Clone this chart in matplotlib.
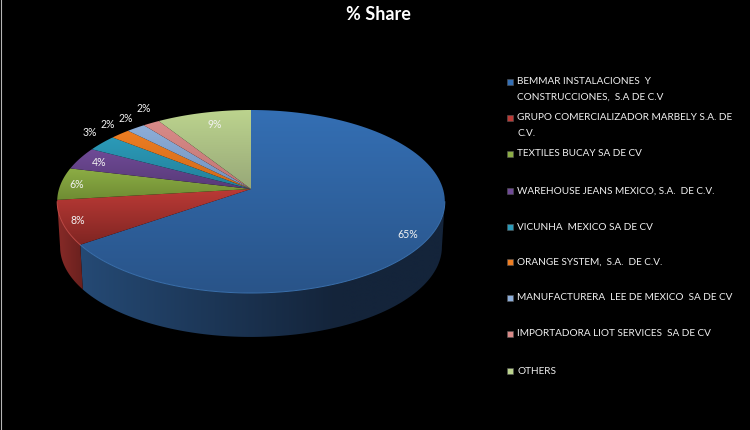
import numpy as np
import matplotlib
matplotlib.use("Agg")
import matplotlib.pyplot as plt
from matplotlib.patches import Polygon

names = [
    "BEMMAR INSTALACIONES  Y\nCONSTRUCCIONES,  S.A DE C.V",
    "GRUPO COMERCIALIZADOR MARBELY S.A. DE\nC.V.",
    "TEXTILES BUCAY SA DE CV",
    "WAREHOUSE JEANS MEXICO, S.A.  DE C.V.",
    "VICUNHA  MEXICO SA DE CV",
    "ORANGE SYSTEM,  S.A.  DE C.V.",
    "MANUFACTURERA  LEE DE MEXICO  SA DE CV",
    "IMPORTADORA LIOT SERVICES  SA DE CV",
    "OTHERS",
]
shares = [65.3, 7.8, 5.7, 4, 2.9, 1.9, 1.8, 1.6, 9.0]
legend_y = [82, 118, 154, 191, 227, 262, 298, 334, 371]

# lighter colour at the back of the pie, darker at the front
top_colors = ["#346fb4", "#bb3a36", "#8cad45", "#6f4a96", "#2b9ab8", "#ed7d22", "#8daed9", "#d98a88", "#bcd48e"]
low_colors = ["#295489", "#7f2522", "#6f8c33", "#583a78", "#23809a", "#d06a1a", "#7292bd", "#c07674", "#98a878"]
side_dark = "#14243a"

CX, CY = 251, 189
RX, RY, K = 192, 89.8, 0.1366
DROP, SHRINK = 45.5, 0.985


def project(angle, low=False):
    # angle in degrees clockwise from 12 o'clock, small perspective on the disc
    a = np.radians(angle)
    u, v = np.sin(a), np.cos(a)
    w = 1 + K * v
    s = SHRINK if low else 1
    d = DROP if low else 0
    return CX + s * RX * u / w, CY + d - s * RY * v / w


def arc(a, b, low=False):
    t = np.linspace(a, b, 120)
    x, y = project(t, low)
    return np.column_stack([x, y])


def gradient(ax, patch, c1, c2, box, horizontal=False, stop=1.0):
    n = 64
    c1 = np.array(matplotlib.colors.to_rgb(c1))
    c2 = np.array(matplotlib.colors.to_rgb(c2))
    f = np.minimum(np.linspace(0, 1, n) / stop, 1)[:, None]
    img = c1 + (c2 - c1) * f
    img = img[None, :, :] if horizontal else img[:, None, :]
    ax.add_patch(patch)
    im = ax.imshow(img, extent=box, aspect="auto", interpolation="bilinear", zorder=patch.get_zorder())
    im.set_clip_path(patch)


fig = plt.figure(figsize=(7.5, 4.3), dpi=100, facecolor="black")
ax = fig.add_axes([0, 0, 1, 1])
ax.set_facecolor("black")
ax.axis("off")

total = sum(shares)
edges = np.cumsum([0] + shares) / total * 360

# walls, only the front part of the pie shows them
wall_start, wall_end = 98, 262
front_edge = edges[1]
blue_wall = np.vstack([arc(wall_start, front_edge), arc(wall_start, front_edge, True)[::-1]])
red_wall = np.vstack([arc(front_edge, wall_end), arc(front_edge, wall_end, True)[::-1]])
gradient(ax, Polygon(blue_wall, closed=True, fc="none", ec="none", zorder=1),
         "#254a75", side_dark, (76, 450, 345, 185), horizontal=True, stop=0.7)
gradient(ax, Polygon(red_wall, closed=True, fc="none", ec="none", zorder=1),
         "#8a2b28", "#5f1d1b", (55, 92, 345, 185), horizontal=True)

# top face
for i in range(len(shares)):
    pts = np.vstack([[CX, CY], arc(edges[i], edges[i + 1])])
    x0, y0 = pts.min(axis=0)
    x1, y1 = pts.max(axis=0)
    gradient(ax, Polygon(pts, closed=True, fc="none", ec="none", zorder=2),
             top_colors[i], low_colors[i], (x0, x1, y1, y0))

rim = arc(wall_start, front_edge)
ax.plot(rim[:, 0], rim[:, 1], color="#3a70ad", lw=0.7, zorder=3)
rim = arc(front_edge, wall_end)
ax.plot(rim[:, 0], rim[:, 1], color="#c04a46", lw=0.7, zorder=3)

# percent labels
label_font = ["Lato", "DejaVu Sans"]
label_x = [408, 78, 77, 99, 90, 108, 126, 144, 215]
label_y = [235, 220, 185, 163, 132, 124, 118, 109, 124]
for i, s in enumerate(shares):
    ax.text(label_x[i], label_y[i], f"{round(s)}%", color="#f2f2f2", fontsize=7.6,
            family=label_font, ha="center", va="center", zorder=4)

# legend
for i, name in enumerate(names):
    y = legend_y[i]
    c = matplotlib.colors.to_rgb(top_colors[i])
    ax.add_patch(Polygon([[507, y - 3.5], [513, y - 3.5], [513, y + 2.5], [507, y + 2.5]],
                         closed=True, fc=c, ec="#555555", lw=0.4, zorder=4))
    lines = name.split("\n")
    for j, line in enumerate(lines):
        ax.text(517, y + j * 15, line, color="#f0f0f0", fontsize=7.2, family=label_font,
                ha="left", va="center", zorder=4)

ax.text(378, 14, "% Share", color="white", fontsize=13, fontweight="bold",
        family=label_font, ha="center", va="center", zorder=4)

# thin grey line on the left edge of the picture
ax.axvline(0.5, color="#b5b5b5", lw=0.8, zorder=5)

ax.set_xlim(0, 750)
ax.set_ylim(430, 0)
fig.savefig("out.png", dpi=100, facecolor="black")
